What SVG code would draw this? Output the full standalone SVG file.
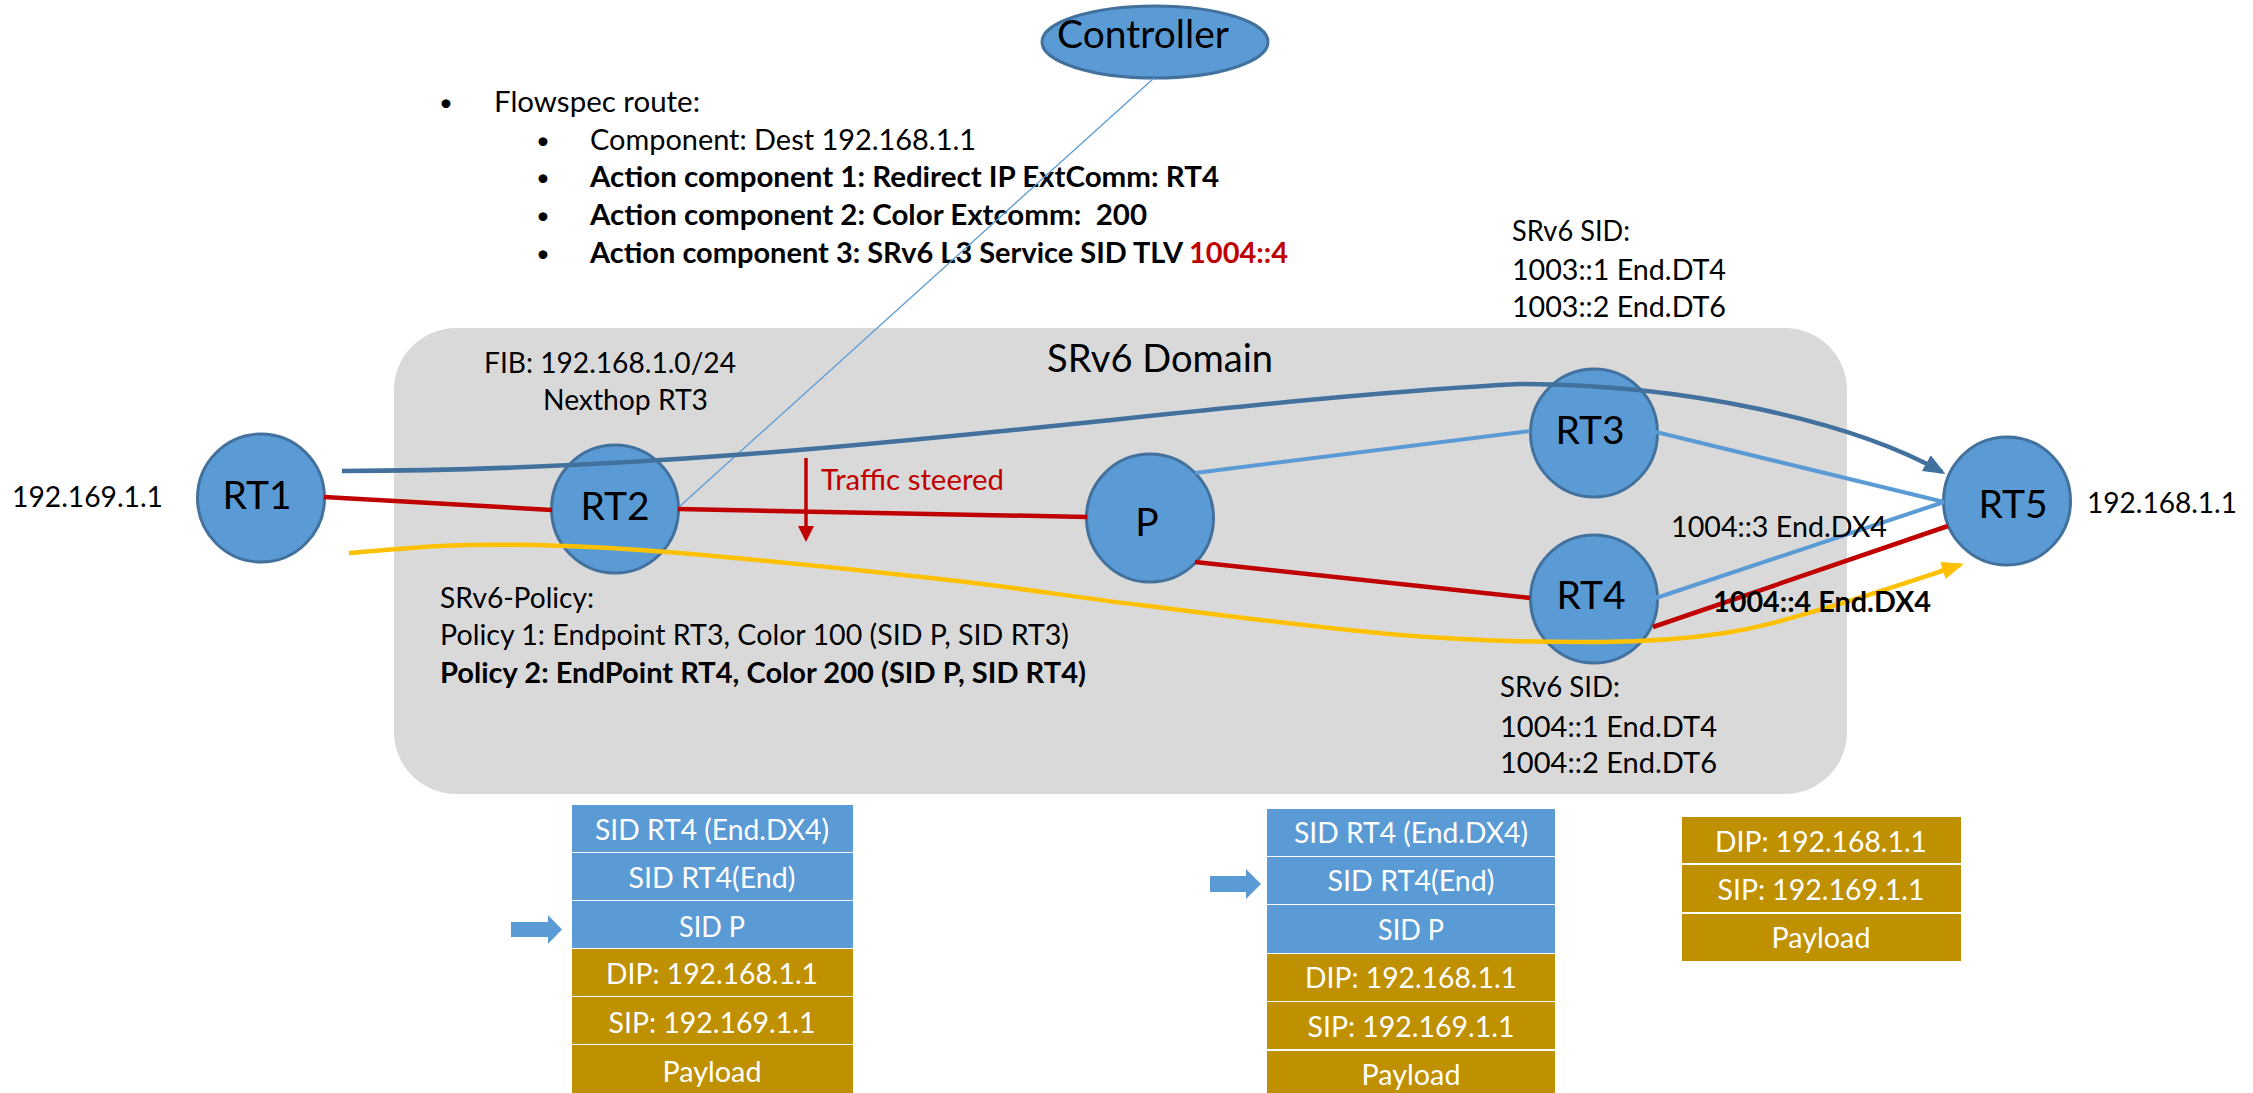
<svg xmlns="http://www.w3.org/2000/svg" width="2253" height="1093" viewBox="0 0 2253 1093">
<style>
.t{font-family:Lato,'Liberation Sans',sans-serif;fill:#000;font-size:28.5px}
.b{font-weight:bold}
.bul{font-family:Lato,'Liberation Sans',sans-serif;fill:#000;font-size:24px}
.lbl{font-family:Lato,'Liberation Sans',sans-serif;fill:#000;font-size:39px;text-anchor:middle}
.st{font-family:Lato,'Liberation Sans',sans-serif;fill:#fff;font-size:28.5px;text-anchor:middle}
.node{fill:#5b9bd5;stroke:#41719c;stroke-width:3}
.red{stroke:#c00000;stroke-width:4.5;fill:none}
.lb{stroke:#5b9bd5;stroke-width:4;fill:none}
.db{stroke:#41719c;stroke-width:4.5;fill:none}
.yl{stroke:#ffc000;stroke-width:4.5;fill:none}
.sb{fill:#5b9bd5}
.sg{fill:#bf9000}
</style>
<defs>
<marker id="ab" markerUnits="userSpaceOnUse" markerWidth="26" markerHeight="20" refX="18" refY="9" orient="auto"><path d="M0,0 L22,9 L0,18 z" fill="#41719c"/></marker>
<marker id="ay" markerUnits="userSpaceOnUse" markerWidth="26" markerHeight="20" refX="18" refY="9" orient="auto"><path d="M0,0 L22,9 L0,18 z" fill="#ffc000"/></marker>
<marker id="ar" markerUnits="userSpaceOnUse" markerWidth="20" markerHeight="20" refX="4" refY="8" orient="auto"><path d="M0,0 L16,8 L0,16 z" fill="#c00000"/></marker>
</defs>
<rect width="2253" height="1093" fill="#fff"/>
<g id="domain">
<rect x="394" y="328" width="1453" height="466" rx="62" ry="62" fill="#d9d9d9"/>
<text class="t" x="1047" y="372" style="font-size:38px" textLength="226" lengthAdjust="spacingAndGlyphs">SRv6 Domain</text>
</g>
<g id="controller">
<ellipse cx="1155" cy="42" rx="113" ry="36" class="node"/>
<text class="t" x="1057" y="48" style="font-size:39px" textLength="172" lengthAdjust="spacingAndGlyphs">Controller</text>
</g>
<g id="flowspec">
<text class="bul" x="439" y="111">•</text>
<text class="t" x="494" y="112" textLength="206" lengthAdjust="spacingAndGlyphs">Flowspec route:</text>
<text class="bul" x="536" y="149">•</text>
<text class="t" x="590" y="150" textLength="386" lengthAdjust="spacingAndGlyphs">Component: Dest 192.168.1.1</text>
<text class="bul" x="536" y="186">•</text>
<text class="t b" x="590" y="187" textLength="629" lengthAdjust="spacingAndGlyphs">Action component 1: Redirect IP ExtComm: RT4</text>
<text class="bul" x="536" y="224">•</text>
<text class="t b" x="590" y="225" xml:space="preserve" textLength="557" lengthAdjust="spacingAndGlyphs">Action component 2: Color Extcomm:  200</text>
<text class="bul" x="536" y="262">•</text>
<text class="t b" x="590" y="263" textLength="698" lengthAdjust="spacingAndGlyphs">Action component 3: SRv6 L3 Service SID TLV <tspan fill="#c00000">1004::4</tspan></text>
</g>
<g id="RT1">
<ellipse cx="261" cy="498" rx="63.5" ry="64" class="node"/>
<text class="lbl" x="257" y="509">RT1</text>
</g>
<g id="RT2">
<ellipse cx="615" cy="509" rx="63.5" ry="64" class="node"/>
<text class="lbl" x="615" y="520">RT2</text>
</g>
<g id="P">
<ellipse cx="1150" cy="518" rx="63.5" ry="64" class="node"/>
<text class="lbl" x="1147" y="536">P</text>
</g>
<g id="RT3">
<ellipse cx="1594" cy="433" rx="63.5" ry="64" class="node"/>
<text class="lbl" x="1590" y="444">RT3</text>
</g>
<g id="RT4">
<ellipse cx="1594" cy="599" rx="63.5" ry="64" class="node"/>
<text class="lbl" x="1591" y="609">RT4</text>
</g>
<g id="RT5">
<ellipse cx="2007" cy="501" rx="63.5" ry="64" class="node"/>
<text class="lbl" x="2013" y="518">RT5</text>
</g>
<g id="connectors">
<line x1="1154" y1="78" x2="679" y2="507" stroke="#5b9bd5" stroke-width="1.3"/>
<line x1="324" y1="497" x2="552" y2="510" class="red"/>
<line x1="678" y1="509" x2="1087" y2="517" class="red"/>
<line x1="1195" y1="562" x2="1530" y2="598" class="red"/>
<line x1="1653" y1="627" x2="1948" y2="526" class="red"/>
<line x1="1195" y1="473" x2="1530" y2="431" class="lb"/>
<line x1="1656" y1="432" x2="1944" y2="502" class="lb"/>
<line x1="1656" y1="598" x2="1944" y2="502" class="lb"/>
<path d="M342,471 C800,470 1200,400 1520,384 C1680,384 1850,420 1942,472" class="db" marker-end="url(#ab)"/>
<path d="M349,553 C369,552 421.5,545.5 470,545 C518.5,544.5 561.7,544.3 640,550 C718.3,555.7 856.7,569.8 940,579 C1023.3,588.2 1063.3,595.7 1140,605 C1216.7,614.3 1323.3,628.8 1400,635 C1476.7,641.2 1545.8,642.3 1600,642 C1654.2,641.7 1686.8,638.8 1725,633 C1763.2,627.2 1789.8,618.3 1829,607 C1868.2,595.7 1938.2,572 1960,565" class="yl" marker-end="url(#ay)"/>
<line x1="806" y1="458" x2="806" y2="530" stroke="#c00000" stroke-width="3.5" marker-end="url(#ar)"/>
</g>
<g id="labels">
<text class="t" x="12" y="507" textLength="151" lengthAdjust="spacingAndGlyphs">192.169.1.1</text>
<text class="t" x="2087" y="513" textLength="150" lengthAdjust="spacingAndGlyphs">192.168.1.1</text>
<text class="t" x="484" y="373" textLength="252" lengthAdjust="spacingAndGlyphs">FIB: 192.168.1.0/24</text>
<text class="t" x="543" y="410" textLength="165" lengthAdjust="spacingAndGlyphs">Nexthop RT3</text>
<text class="t" x="821" y="490" style="fill:#c00000" textLength="183" lengthAdjust="spacingAndGlyphs">Traffic steered</text>
<text class="t" x="1512" y="241" textLength="118" lengthAdjust="spacingAndGlyphs">SRv6 SID:</text>
<text class="t" x="1512" y="280" textLength="214" lengthAdjust="spacingAndGlyphs">1003::1 End.DT4</text>
<text class="t" x="1512" y="317" textLength="214" lengthAdjust="spacingAndGlyphs">1003::2 End.DT6</text>
<text class="t" x="1500" y="697" textLength="120" lengthAdjust="spacingAndGlyphs">SRv6 SID:</text>
<text class="t" x="1500" y="737" textLength="217" lengthAdjust="spacingAndGlyphs">1004::1 End.DT4</text>
<text class="t" x="1500" y="773" textLength="217" lengthAdjust="spacingAndGlyphs">1004::2 End.DT6</text>
<text class="t" x="1671" y="537" textLength="216" lengthAdjust="spacingAndGlyphs">1004::3 End.DX4</text>
<text class="t b" x="1713" y="612" textLength="218" lengthAdjust="spacingAndGlyphs">1004::4 End.DX4</text>
<text class="t" x="440" y="608" textLength="154" lengthAdjust="spacingAndGlyphs">SRv6-Policy:</text>
<text class="t" x="440" y="645" textLength="629" lengthAdjust="spacingAndGlyphs">Policy 1: Endpoint RT3, Color 100 (SID P, SID RT3)</text>
<text class="t b" x="440" y="683" textLength="646" lengthAdjust="spacingAndGlyphs">Policy 2: EndPoint RT4, Color 200 (SID P, SID RT4)</text>
</g>
<g id="stack1">
<rect class="sb" x="572" y="805" width="281" height="47"/>
<rect class="sb" x="572" y="853" width="281" height="47"/>
<rect class="sb" x="572" y="901" width="281" height="47"/>
<rect class="sg" x="572" y="949" width="281" height="47"/>
<rect class="sg" x="572" y="997" width="281" height="47"/>
<rect class="sg" x="572" y="1045" width="281" height="48"/>
<text class="st" x="712" y="840" textLength="234" lengthAdjust="spacingAndGlyphs">SID RT4 (End.DX4)</text>
<text class="st" x="712" y="888" textLength="167" lengthAdjust="spacingAndGlyphs">SID RT4(End)</text>
<text class="st" x="712" y="937" textLength="66" lengthAdjust="spacingAndGlyphs">SID P</text>
<text class="st" x="712" y="984" textLength="212" lengthAdjust="spacingAndGlyphs">DIP: 192.168.1.1</text>
<text class="st" x="712" y="1033" textLength="207" lengthAdjust="spacingAndGlyphs">SIP: 192.169.1.1</text>
<text class="st" x="712" y="1082" textLength="99" lengthAdjust="spacingAndGlyphs">Payload</text>
<path class="sb" d="M511,922 L548,922 L548,915 L562,929.5 L548,944 L548,937 L511,937 Z"/>
</g>
<g id="stack2">
<rect class="sb" x="1267" y="809" width="288" height="47"/>
<rect class="sb" x="1267" y="857" width="288" height="47"/>
<rect class="sb" x="1267" y="905" width="288" height="48"/>
<rect class="sg" x="1267" y="954" width="288" height="47"/>
<rect class="sg" x="1267" y="1002" width="288" height="47"/>
<rect class="sg" x="1267" y="1051" width="288" height="42"/>
<text class="st" x="1411" y="843" textLength="234" lengthAdjust="spacingAndGlyphs">SID RT4 (End.DX4)</text>
<text class="st" x="1411" y="891" textLength="167" lengthAdjust="spacingAndGlyphs">SID RT4(End)</text>
<text class="st" x="1411" y="940" textLength="66" lengthAdjust="spacingAndGlyphs">SID P</text>
<text class="st" x="1411" y="988" textLength="212" lengthAdjust="spacingAndGlyphs">DIP: 192.168.1.1</text>
<text class="st" x="1411" y="1037" textLength="207" lengthAdjust="spacingAndGlyphs">SIP: 192.169.1.1</text>
<text class="st" x="1411" y="1085" textLength="99" lengthAdjust="spacingAndGlyphs">Payload</text>
<path class="sb" d="M1210,876 L1246,876 L1246,869 L1261,884 L1246,899 L1246,892 L1210,892 Z"/>
</g>
<g id="stack3">
<rect class="sg" x="1682" y="817" width="279" height="46"/>
<rect class="sg" x="1682" y="865" width="279" height="47"/>
<rect class="sg" x="1682" y="914" width="279" height="47"/>
<text class="st" x="1821" y="852" textLength="212" lengthAdjust="spacingAndGlyphs">DIP: 192.168.1.1</text>
<text class="st" x="1821" y="900" textLength="207" lengthAdjust="spacingAndGlyphs">SIP: 192.169.1.1</text>
<text class="st" x="1821" y="948" textLength="99" lengthAdjust="spacingAndGlyphs">Payload</text>
</g>
</svg>
